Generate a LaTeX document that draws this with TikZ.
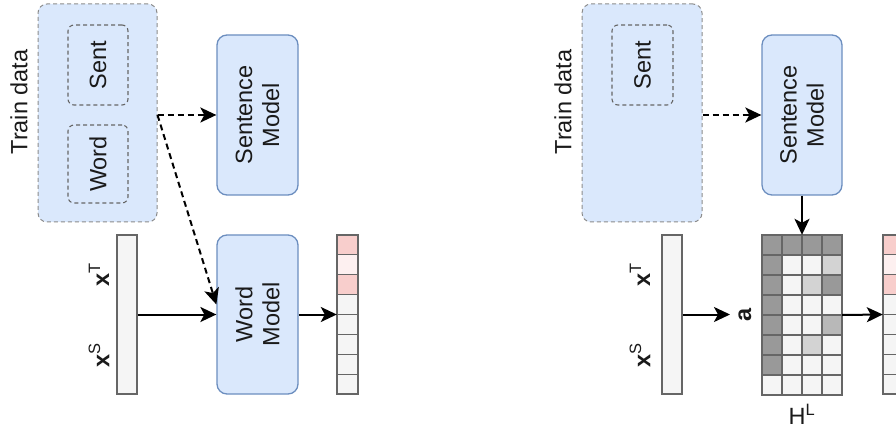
\documentclass[tikz,border=0pt]{standalone}
\usepackage{fontspec}
\setmainfont{Liberation Sans}
\usetikzlibrary{arrows.meta}
\definecolor{bfill}{HTML}{DAE8FC}
\definecolor{bstroke}{HTML}{6C8EBF}
\definecolor{tdstroke}{HTML}{8C8C8C}
\definecolor{instroke}{HTML}{666666}
\definecolor{cellW}{HTML}{F5F5F5}
\definecolor{cellD}{HTML}{999999}
\definecolor{cellL}{HTML}{D3D3D3}
\definecolor{cellM}{HTML}{B8B8B8}
\definecolor{pinkA}{HTML}{F8CECC}
\definecolor{pinkB}{HTML}{FDF0F0}
\definecolor{txt}{HTML}{1A1A1A}
\begin{document}
\begin{tikzpicture}[x=1pt,y=-1pt,
  lbl/.style={font=\fontsize{23.5}{27}\selectfont, text=txt, inner sep=0pt, align=center},
  tdbox/.style={draw=tdstroke, fill=bfill, dash pattern=on 4pt off 3pt, line width=1pt, rounded corners=9pt, inner sep=0pt},
  inbox/.style={draw=instroke, fill=bfill, dash pattern=on 4pt off 3pt, line width=1.1pt, rounded corners=6pt, inner sep=0pt, minimum width=60, minimum height=80},
  modelbox/.style={draw=bstroke, fill=bfill, line width=1.3pt, rounded corners=10pt, inner sep=0pt, minimum width=81, minimum height=160},
  barbox/.style={draw=instroke, fill=cellW, line width=1.2pt, inner sep=0pt, minimum width=20, minimum height=159},
  ghost/.style={inner sep=0pt, minimum width=#1, minimum height=160},
  conn/.style={line width=2pt, -{Stealth[length=16pt,width=15pt,inset=4pt]}},
  dconn/.style={conn, dash pattern=on 6pt off 4pt},
]
\useasboundingbox (0,0) rectangle (896,430);

% ---------------- Left panel ----------------
\node[tdbox, minimum width=119, minimum height=218] (tdA) at (97.5,113) {};
\node[lbl, rotate=90] (tdlA) at (19,102) {Train data};
\node[inbox, label={[lbl, rotate=90]center:Sent}] (sentA) at (98,65) {};
\node[inbox, minimum height=78, label={[lbl, rotate=90]center:Word}] (wordA) at (98,164) {};
\node[modelbox, label={[lbl, rotate=90]center:Sentence\\Model}] (smA) at (257.5,115) {};
\node[modelbox, minimum height=159, label={[lbl, rotate=90]center:Word\\Model}] (wmA) at (257.5,314.5) {};
\node[barbox] (barA) at (127,314.5) {};
\node[lbl, rotate=90] (xtA) at (99,275) {\textbf{x}\textsuperscript{T}};
\node[lbl, rotate=90] (xsA) at (99,355) {\textbf{x}\textsuperscript{S}};

% output vector left
\foreach \i/\c in {0/pinkA,1/pinkB,2/pinkA,3/cellW,4/cellW,5/cellW,6/cellW,7/cellW}{
  \filldraw[fill=\c, draw=instroke, line width=1.2pt] (337,235+\i*19.875) rectangle (358,235+\i*19.875+19.875);
}
\node[ghost=21] (vecA) at (347.5,314.5) {};

\draw[dconn] (tdA.east |- smA.west) -- (smA.west);
\draw[dconn] (tdA.east |- smA.west) -- ([yshift=10pt]wmA.west);
\draw[conn] (barA.east) -- (wmA.west);
\draw[conn] (wmA.east) -- (vecA.west);

% ---------------- Right panel ----------------
\node[tdbox, minimum width=120, minimum height=218] (tdB) at (642,113) {};
\node[lbl, rotate=90] (tdlB) at (563,102) {Train data};
\node[inbox, minimum width=61, label={[lbl, rotate=90]center:Sent}] (sentB) at (642.5,65) {};
\node[modelbox, minimum width=80, label={[lbl, rotate=90]center:Sentence\\Model}] (smB) at (802,115) {};
\node[barbox] (barB) at (672,314.5) {};
\node[lbl, rotate=90] (xtB) at (640,275) {\textbf{x}\textsuperscript{T}};
\node[lbl, rotate=90] (xsB) at (640,355) {\textbf{x}\textsuperscript{S}};

% matrix H^L
\foreach \row [count=\r from 0] in {
  {cellD,cellD,cellD,cellD},
  {cellD,cellW,cellW,cellL},
  {cellD,cellW,cellL,cellD},
  {cellD,cellW,cellW,cellW},
  {cellD,cellW,cellW,cellM},
  {cellD,cellW,cellL,cellW},
  {cellD,cellW,cellW,cellW},
  {cellW,cellW,cellW,cellW}}{
  \foreach \c [count=\k from 0] in \row {
    \filldraw[fill=\c, draw=instroke, line width=1.2pt] (762+\k*20,235+\r*20) rectangle (782+\k*20,255+\r*20);
  }
}
\node[ghost=80] (matB) at (802,315) {};
\node[lbl, rotate=90] (aB) at (745,315) {\textbf{a}};
\node[lbl] (hlB) at (802,414) {H\textsuperscript{L}};

% output vector right
\foreach \i/\c in {0/pinkA,1/pinkB,2/pinkA,3/cellW,4/cellW,5/cellW,6/cellW,7/cellW}{
  \filldraw[fill=\c, draw=instroke, line width=1.2pt] (883,235+\i*19.875) rectangle (904,235+\i*19.875+19.875);
}
\node[ghost=21] (vecB) at (893.5,314.5) {};

\draw[dconn] (tdB.east |- smB.west) -- (smB.west);
\draw[conn] (smB.south) -- (matB.north);
\draw[conn, shorten >=15pt] (barB.east) -- (aB.west |- barB.east);
\draw[conn] (matB.east) -- (vecB.west);
\end{tikzpicture}
\end{document}
